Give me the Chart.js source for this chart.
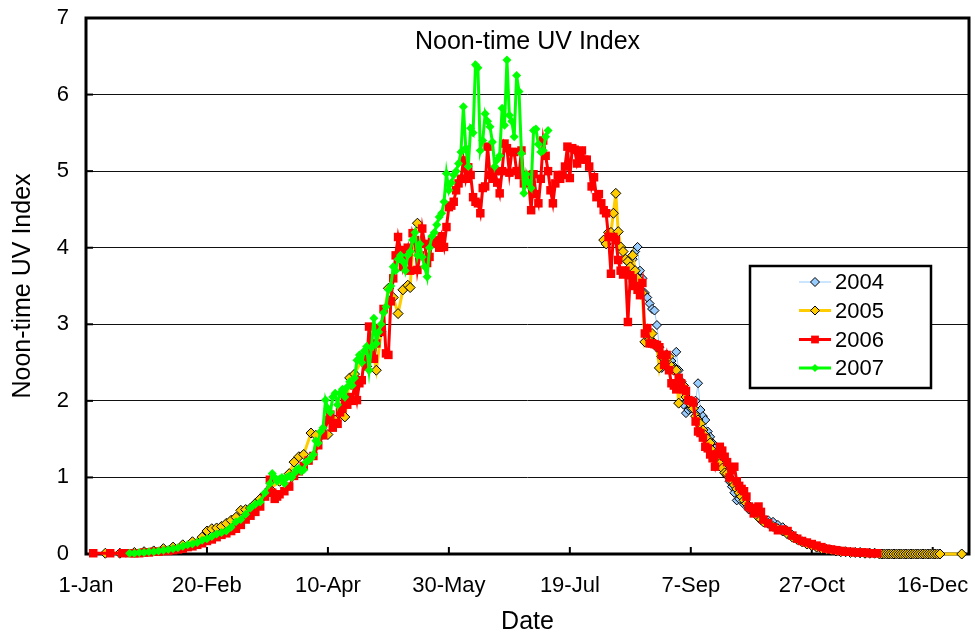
<!DOCTYPE html>
<html>
<head>
<meta charset="utf-8">
<script src="https://cdn.jsdelivr.net/npm/chart.js@4/dist/chart.umd.min.js"></script>
<style>
  html, body { margin: 0; padding: 0; background: #fff; }
  .chart-box { width: 975px; height: 637px; position: relative; }
</style>
</head>
<body>
<div class="chart-box"><canvas class="uv-chart"></canvas></div>
<script>
// day of year (1-Jan = 0) and noon-time UV index
const xTickLabels = ["1-Jan", "20-Feb", "10-Apr", "30-May", "19-Jul", "7-Sep", "27-Oct", "16-Dec"];
const years = ["2004", "2005", "2006", "2007"];

const days2004 = [226,227,228,229,230,231,232,233,234,235,236,237,238,239,240,241,242,243,244,245,246,247,248,249,
  250,251,252,253,254,255,256,257,258,259,260,261,262,263,264,265,266,267,268,269,270,
  272,274,276,278,280,282,284,286,288,290,292,294,296,298,300,302,304,306,308,310,312,314,316,318,320];
const uv2004 = [3.85,3.95,4.01,3.70,3.60,3.41,3.35,3.27,3.20,3.18,2.99,2.70,2.43,2.50,2.60,2.55,2.52,2.45,2.64,2.40,2.20,1.95,1.84,1.88,
  1.90,1.95,2.00,2.23,1.88,1.80,1.75,1.60,1.53,1.45,1.38,1.30,1.25,1.18,1.10,1.02,0.95,0.88,0.80,0.70,0.72,
  0.65,0.58,0.55,0.51,0.46,0.44,0.42,0.38,0.35,0.30,0.25,0.20,0.16,0.14,0.11,0.09,0.07,0.06,0.05,0.04,0.03,0.03,0.02,0.02,0.01];

const days2005 = [8,14,20,24,28,32,36,40,44,48,50,52,54,56,58,60,62,64,66,68,70,72,74,76,80,84,86,88,90,93,95,
  100,103,107,109,111,114,116,118,120,122,125,127,129,131,133,134,135,137,175,
  214,215,216,217,218,219,220,221,222,223,224,225,226,227,228,229,230,231,232,233,234,235,236,237,238,239,
  240,241,242,243,244,245,246,247,248,249,250,251,252,253,254,255,256,257,258,259,
  260,261,262,263,264,265,266,267,268,269,270,271,272,273,274,275,276,277,278,279,280,
  282,284,286,288,290,292,294,296,298,300,302,304,306,308,310,312,314,316,318,320,322,324,326,
  328,329,330,331,332,333,334,335,336,337,338,339,340,341,342,343,344,345,346,347,348,349,350,351,352,353,362];
const uv2005 = [0.01,0.01,0.02,0.03,0.04,0.07,0.09,0.12,0.16,0.22,0.30,0.33,0.34,0.36,0.40,0.44,0.48,0.57,0.58,0.60,0.66,0.72,0.78,0.85,0.95,1.05,1.20,1.27,1.30,1.58,1.55,
  1.56,1.75,1.79,2.30,2.35,2.53,2.45,2.75,2.40,2.90,3.47,3.35,3.14,3.45,3.51,3.48,4.00,4.32,null,
  4.10,4.05,4.20,4.20,4.45,4.71,4.21,4.01,3.95,3.85,3.82,3.75,3.90,3.70,3.60,3.50,3.41,2.77,2.85,2.80,2.88,2.75,2.70,2.43,2.58,2.55,
  2.60,2.58,2.45,2.40,2.40,1.97,2.25,2.20,2.05,2.00,1.95,1.90,1.80,1.75,1.70,1.62,1.55,1.50,1.45,1.35,
  1.30,1.25,1.18,1.12,1.06,1.05,1.00,0.95,0.90,0.85,0.80,0.75,0.70,0.66,0.62,0.58,0.55,0.52,0.48,0.45,0.42,
  0.40,0.36,0.33,0.30,0.26,0.22,0.19,0.16,0.13,0.11,0.09,0.07,0.06,0.05,0.04,0.03,0.03,0.02,0.02,0.02,0.01,0.01,0.01,
  0,0,0,0,0,0,0,0,0,0,0,0,0,0,0,0,0,0,0,0,0,0,0,0,0,0,0];

const days2006 = [3,10,15,18,20,22,24,26,28,30,32,34,36,38,40,42,44,46,48,50,52,54,56,58,60,62,64,66,68,70,72,74,76,77,78,79,80,82,84,86,88,90,92,94,96,98,
  100,101,102,103,104,105,106,107,108,109,110,111,112,113,114,115,116,117,118,119,
  120,121,122,123,124,125,126,127,128,129,130,131,132,133,134,135,136,137,138,139,
  140,141,142,143,144,145,146,147,148,149,150,151,152,153,154,155,156,157,158,159,
  160,161,162,163,164,165,166,167,168,169,170,171,172,173,174,175,176,177,178,179,
  180,181,182,183,184,185,186,187,188,189,190,191,192,193,194,195,196,197,198,199,
  200,201,202,203,204,205,206,207,208,209,210,211,212,213,214,215,216,217,218,219,
  220,221,222,223,224,225,226,227,228,229,230,231,232,233,234,235,236,237,238,239,
  240,241,242,243,244,245,246,247,248,249,250,251,252,253,254,255,256,257,258,259,
  260,261,262,263,264,265,266,267,268,269,270,271,272,273,274,275,276,277,278,279,280,
  282,284,286,288,290,292,294,296,298,300,302,304,306,308,310,312,314,316,318,320,322,324,326,327];
const uv2006 = [0.01,0.01,0.01,0.01,0.01,0.01,0.02,0.02,0.03,0.03,0.04,0.04,0.05,0.06,0.07,0.09,0.10,0.12,0.14,0.17,0.19,0.22,0.25,0.27,0.30,0.33,0.38,0.45,0.50,0.55,0.62,0.75,0.97,0.80,0.72,0.75,0.78,0.82,0.88,1.02,1.08,1.15,1.22,1.28,1.42,1.55,
  1.75,1.82,1.65,1.71,1.70,1.85,1.90,2.00,1.95,2.05,2.00,2.20,2.01,2.23,2.27,2.55,2.45,2.97,2.60,2.55,
  2.75,2.95,2.90,3.20,2.62,2.60,3.30,3.60,3.90,4.14,3.97,3.75,3.90,4.00,3.70,4.19,4.10,3.71,3.90,4.25,
  4.05,3.80,3.88,4.08,4.10,4.05,4.00,4.15,4.01,4.27,4.53,4.55,4.60,4.75,4.84,4.90,5.14,4.90,5.05,4.95,
  4.66,4.60,4.58,4.45,4.78,4.80,5.32,4.95,4.90,5.00,4.85,4.71,5.00,5.36,5.30,4.98,5.25,5.25,5.00,4.95,
  5.27,4.84,4.95,4.85,4.49,4.96,4.70,4.58,4.90,5.40,5.20,5.00,4.75,4.58,4.84,4.95,4.90,4.95,5.06,5.32,
  4.91,5.30,5.28,5.10,5.20,5.27,5.15,5.15,5.06,4.80,4.92,4.66,4.70,4.58,4.49,4.45,4.14,3.66,4.14,4.10,
  3.84,3.70,3.65,3.70,3.03,3.64,3.60,3.50,3.45,3.38,3.54,2.88,2.95,2.75,2.75,2.74,2.73,2.70,2.60,2.47,
  2.60,2.40,2.23,2.20,2.15,2.30,2.23,2.15,2.13,2.01,2.00,1.98,1.73,1.60,1.58,1.52,1.40,1.38,1.30,1.25,
  1.14,1.30,1.40,1.35,1.27,1.20,1.00,1.10,1.14,0.95,0.89,0.85,0.82,0.75,0.62,0.60,0.53,0.60,0.62,0.55,0.45,
  0.40,0.35,0.31,0.32,0.30,0.24,0.20,0.17,0.15,0.13,0.11,0.09,0.07,0.06,0.05,0.04,0.03,0.03,0.02,0.02,0.02,0.01,0.01,0.01];

const days2007 = [18,20,22,24,26,28,30,32,34,36,38,40,42,44,46,48,50,52,54,56,58,60,62,64,66,68,70,72,74,76,77,78,79,
  80,81,82,83,84,85,86,87,88,89,90,91,92,93,94,95,96,97,98,99,
  100,101,102,103,104,105,106,107,108,109,110,111,112,113,114,115,116,117,118,119,
  120,121,122,123,124,125,126,127,128,129,130,131,132,133,134,135,136,137,138,139,
  140,141,142,143,144,145,146,147,148,149,150,151,152,153,154,155,156,157,158,159,
  160,161,162,163,164,165,166,167,168,169,170,171,172,173,174,175,176,177,178,179,
  180,181,182,183,184,185,186,187,188,189,190,191];
const uv2007 = [0.01,0.01,0.02,0.02,0.03,0.03,0.04,0.05,0.06,0.07,0.08,0.10,0.12,0.13,0.15,0.18,0.20,0.23,0.26,0.28,0.30,0.35,0.42,0.45,0.52,0.60,0.65,0.68,0.80,0.92,1.05,1.00,0.95,
  0.98,1.00,0.92,1.00,1.02,1.00,1.05,1.10,1.12,1.08,1.10,1.20,1.22,1.25,1.30,1.48,1.45,1.60,1.65,2.01,
  1.90,1.85,2.05,2.10,1.95,2.10,2.15,2.05,2.18,2.25,2.20,2.30,2.53,2.60,2.50,2.65,2.71,2.40,2.70,3.08,
  2.75,2.90,3.00,3.15,3.23,3.45,3.50,3.75,3.70,3.85,3.90,3.82,3.70,3.90,3.95,4.10,4.20,3.90,4.05,3.88,
  3.75,3.62,4.00,4.15,4.20,4.30,4.40,4.45,4.60,4.97,4.75,4.85,4.95,5.00,5.10,5.25,5.84,5.30,5.06,5.56,
  5.50,6.39,6.35,5.27,5.40,5.75,5.65,5.58,5.38,5.06,5.15,5.20,5.82,5.60,6.45,5.73,5.65,5.45,6.25,6.04,
  5.23,4.71,4.96,4.85,4.78,5.53,5.55,5.35,5.25,5.27,5.45,5.53];

const seriesDays = [days2004, days2005, days2006, days2007];
const seriesValues = [uv2004, uv2005, uv2006, uv2007];

const seriesStyles = [
  { line: "#99CCFF", width: 1,   fill: "#99CCFF", edge: "#000000", edgeWidth: 1, shape: "rectRot", size: 4.5, legendSize: 4.5 },
  { line: "#FFCC00", width: 3,   fill: "#FFCC00", edge: "#000000", edgeWidth: 1, shape: "rectRot", size: 5,   legendSize: 4.5 },
  { line: "#FF0000", width: 3,   fill: "#FF0000", edge: "#FF0000", edgeWidth: 0, shape: "rect",    size: 6,   legendSize: 5.5 },
  { line: "#00FF00", width: 3,   fill: "#00FF00", edge: "#00FF00", edgeWidth: 0, shape: "rectRot", size: 4.5, legendSize: 4 },
];

const FONT = '"Liberation Sans", Arial, sans-serif';

const datasets = years.map((yr, i) => ({
  label: yr,
  data: seriesDays[i].map((d, j) => ({ x: d, y: seriesValues[i][j] })),
  borderColor: seriesStyles[i].line,
  borderWidth: seriesStyles[i].width,
  pointStyle: seriesStyles[i].shape,
  pointRadius: seriesStyles[i].size,
  pointBackgroundColor: seriesStyles[i].fill,
  pointBorderColor: seriesStyles[i].edge,
  pointBorderWidth: seriesStyles[i].edgeWidth,
  tension: 0,
  spanGaps: false,
  clip: 10,
  order: years.length - i, // later years drawn on top
}));

// frame, tick marks, inner title and boxed legend, like the spreadsheet chart
const plotDecor = {
  id: "plotDecor",
  beforeDatasetsDraw(chart) {
    const { ctx, chartArea: a, scales: { x, y } } = chart;
    ctx.save();
    ctx.strokeStyle = "#000";
    ctx.lineWidth = 2;
    x.ticks.forEach(t => {
      const px = x.getPixelForValue(t.value);
      ctx.beginPath();
      ctx.moveTo(px, a.bottom);
      ctx.lineTo(px, a.bottom - 7);
      ctx.stroke();
    });
    y.ticks.forEach(t => {
      const py = y.getPixelForValue(t.value);
      ctx.beginPath();
      ctx.moveTo(a.left, py);
      ctx.lineTo(a.left + 7, py);
      ctx.stroke();
    });
    ctx.lineWidth = 3;
    ctx.strokeRect(a.left, a.top, a.right - a.left, a.bottom - a.top);
    ctx.restore();
  },
  afterDatasetsDraw(chart) {
    const { ctx, chartArea: a } = chart;
    ctx.save();
    ctx.fillStyle = "#000";
    ctx.font = "25px " + FONT;
    ctx.textAlign = "center";
    ctx.textBaseline = "middle";
    ctx.fillText("Noon-time UV Index", (a.left + a.right) / 2, a.top + 24);

    const bx = a.right - 219, by = a.top + 248, bw = 181, bh = 122;
    ctx.fillStyle = "#fff";
    ctx.fillRect(bx, by, bw, bh);
    ctx.strokeStyle = "#000";
    ctx.lineWidth = 2.5;
    ctx.strokeRect(bx, by, bw, bh);
    const rowY = [16, 44.5, 73.5, 102];
    ctx.font = "22px " + FONT;
    ctx.textAlign = "left";
    years.forEach((yr, i) => {
      const s = seriesStyles[i];
      const cy = by + rowY[i];
      ctx.strokeStyle = s.line;
      ctx.lineWidth = s.width;
      ctx.beginPath();
      ctx.moveTo(bx + 49, cy);
      ctx.lineTo(bx + 81, cy);
      ctx.stroke();
      ctx.fillStyle = s.fill;
      ctx.strokeStyle = s.edge;
      ctx.lineWidth = s.edgeWidth;
      Chart.helpers.drawPoint(ctx, { pointStyle: s.shape, radius: s.legendSize, rotation: 0, borderWidth: s.edgeWidth }, bx + 65, cy);
      ctx.fillStyle = "#000";
      ctx.fillText(yr, bx + 85, cy + 1);
    });
    ctx.restore();
  },
};

new Chart(document.querySelector(".uv-chart"), {
  type: "line",
  data: { datasets },
  options: {
    responsive: true,
    maintainAspectRatio: false,
    animation: false,
    events: [],
    layout: { padding: { left: 0, top: 18, right: 5, bottom: 0 } },
    plugins: {
      legend: { display: false },
      tooltip: { enabled: false },
      title: { display: false },
    },
    scales: {
      x: {
        type: "linear",
        min: 0,
        max: 365,
        afterFit: s => { s.height = 83; s.paddingLeft = 0; s.paddingRight = 0; },
        grid: { display: false, drawTicks: false },
        border: { display: false },
        ticks: {
          stepSize: 50,
          includeBounds: false,
          autoSkip: false,
          maxRotation: 0,
          padding: 19,
          color: "#000",
          font: { family: FONT, size: 22 },
          callback: v => xTickLabels[v / 50],
        },
        title: {
          display: true,
          text: "Date",
          color: "#000",
          font: { family: FONT, size: 25 },
          padding: { top: 0, bottom: 0 },
        },
      },
      y: {
        min: 0,
        max: 7,
        afterFit: s => { s.width = 86; s.paddingTop = 0; s.paddingBottom = 0; },
        grid: { color: "#111", lineWidth: 1, drawTicks: false },
        border: { display: false },
        ticks: {
          stepSize: 1,
          padding: 17,
          color: "#000",
          font: { family: FONT, size: 22 },
        },
        title: {
          display: true,
          text: "Noon-time UV Index",
          color: "#000",
          font: { family: FONT, size: 25 },
          padding: { top: 8, bottom: 0 },
        },
      },
    },
  },
  plugins: [plotDecor],
});
</script>
</body>
</html>
